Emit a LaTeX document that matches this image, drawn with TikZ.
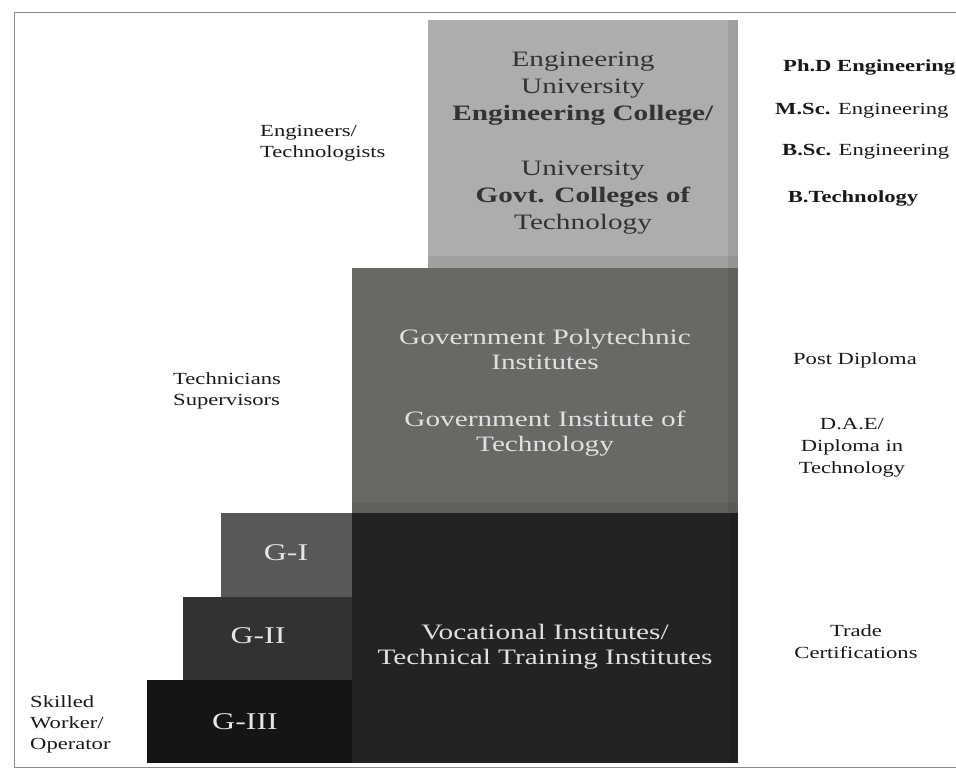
\documentclass[tikz,border=0pt]{standalone}
\usepackage{fontspec}
\setmainfont[FakeStretch=1.33]{Liberation Serif}
\definecolor{unigray}{HTML}{ADADAD}
\definecolor{polygray}{HTML}{686865}
\definecolor{vocgray}{HTML}{232323}
\definecolor{gonegray}{HTML}{585858}
\definecolor{gtwogray}{HTML}{323232}
\definecolor{gthreegray}{HTML}{151515}
\definecolor{framegray}{HTML}{8A8A8A}
\begin{document}
\begin{tikzpicture}%
	[x=1pt, y=-1pt,
	frame/.style={color=framegray, line width=1pt},
	tier/.style={rectangle, inner sep=0pt, draw=none},
	shade/.style={fill=black, fill opacity=0.07},
	darktext/.style={color=black!80, align=center, font=\fontsize{22}{27}\selectfont},
	lighttext/.style={color=black!12, align=center, font=\fontsize{22}{25}\selectfont},
	gradetext/.style={color=black!10, font=\fontsize{24}{28}\selectfont},
	sidetext/.style={color=black!90, align=left, anchor=west, inner sep=0pt, font=\fontsize{17}{21}\selectfont},
	degtext/.style={color=black!90, align=center, inner sep=0pt, font=\fontsize{17}{22}\selectfont}]
%
\useasboundingbox (0,0) rectangle (956,769);
%%
%% Frame
%%
\draw[frame] (960,12) -- (14,12) -- (14,767) -- (960,767);
%%
%% Drawing the tiers
%%
\node[tier, fill=unigray, minimum width=310, minimum height=248] (univ) at (583,144) {};
\node[tier, fill=polygray, minimum width=386, minimum height=245] (poly) at (545,390.5) {};
\node[tier, fill=vocgray, minimum width=386, minimum height=250] (voc) at (545,638) {};
\node[tier, fill=gonegray, minimum width=131, minimum height=84] (gone) at (286.5,555) {};
\node[tier, fill=gtwogray, minimum width=169, minimum height=83] (gtwo) at (267.5,638.5) {};
\node[tier, fill=gthreegray, minimum width=205, minimum height=83] (gthree) at (249.5,721.5) {};
%%
%% Soft edges of the tiers
%%
\fill[shade] (univ.south west) ++(0,-12) rectangle (univ.south east);
\fill[shade] (univ.north east) ++(-10,0) rectangle (univ.south east);
\fill[shade] (poly.south west) ++(0,-10) rectangle (poly.south east);
\fill[shade] (poly.north east) ++(-10,0) rectangle (poly.south east);
\fill[shade] (voc.north east) ++(-8,0) rectangle (voc.south east);
%%
%% Texts in the tiers
%%
\node[darktext] (univtxt) at (583,143) {Engineering\\University\\\textbf{Engineering College/}\\[28pt]University\\\textbf{Govt. Colleges of}\\Technology};
\node[lighttext] (polytxt) at (545,393) {Government Polytechnic\\Institutes\\[32pt]Government Institute of\\Technology};
\node[lighttext] (voctxt) at (545,647) {Vocational Institutes/\\Technical Training Institutes};
\node[gradetext] (gonetxt) at (286,553) {G-I};
\node[gradetext] (gtwotxt) at (258,636) {G-II};
\node[gradetext] (gthreetxt) at (245,722) {G-III};
%%
%% Left labels
%%
\node[sidetext] (engineers) at (260,143) {Engineers/\\Technologists};
\node[sidetext] (technicians) at (173,391) {Technicians\\Supervisors};
\node[sidetext] (skilled) at (30,724) {Skilled\\Worker/\\Operator};
%%
%% Right labels
%%
\node[sidetext] (phd) at (783,67) {\textbf{Ph.D Engineering}};
\node[sidetext] (msc) at (775,111) {\textbf{M.Sc.} Engineering};
\node[sidetext] (bsc) at (782,152) {\textbf{B.Sc.} Engineering};
\node[degtext] (btech) at (853,198) {\textbf{B.Technology}};
\node[degtext] (postdip) at (855,360) {Post Diploma};
\node[degtext] (dae) at (852,448) {D.A.E/\\Diploma in\\Technology};
\node[degtext] (trade) at (856,642) {Trade\\Certifications};
\end{tikzpicture}
\end{document}
